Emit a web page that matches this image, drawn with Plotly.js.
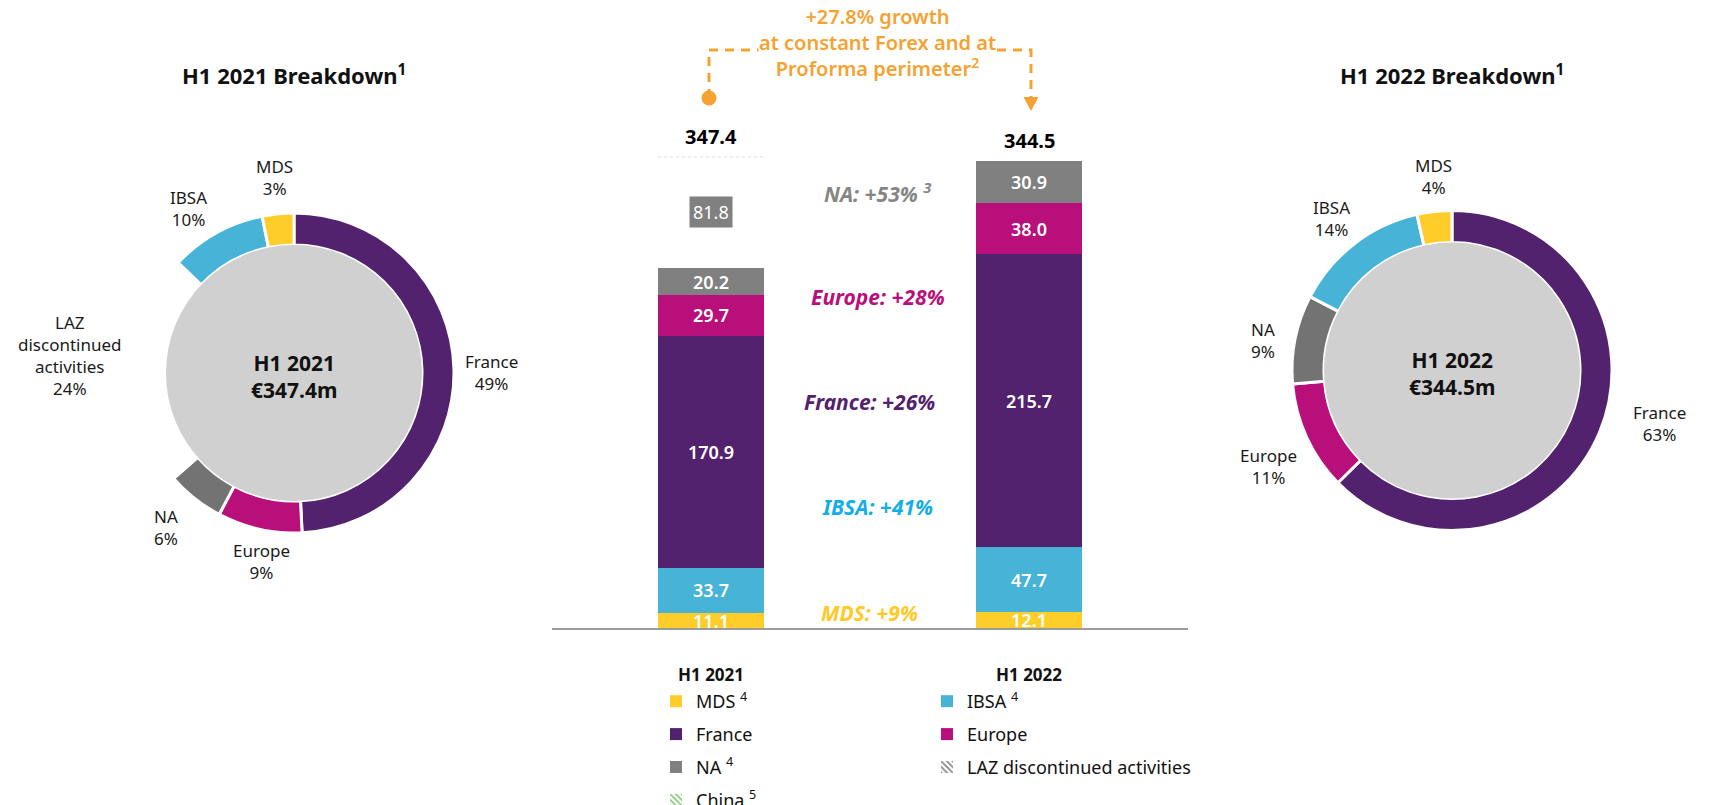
<!DOCTYPE html>
<html>
<head>
<meta charset="utf-8">
<script src="https://cdn.plot.ly/plotly-3.0.1.min.js"></script>
<style>
html,body{margin:0;padding:0;background:#ffffff;}
#chart{width:1709px;height:805px;}
</style>
</head>
<body>
<div id="chart"></div>
<script>
// ---------------- DATA ----------------
const periods = ['H1 2021', 'H1 2022'];
const mdsVals = [11.1, 12.1];
const ibsaVals = [33.7, 47.7];
const franceVals = [170.9, 215.7];
const europeVals = [29.7, 38.0];
const naVals = [20.2, 30.9];
const lazVals = [81.8, 0];
const chinaVals = [0, 0];
const totals = [347.4, 344.5];
const growthNames = ['NA', 'Europe', 'France', 'IBSA', 'MDS'];
const growthPct = ['+53%', '+28%', '+26%', '+41%', '+9%'];
const growthNotes = ['3', '', '', '', ''];
const headlineGrowth = '+27.8%';
const pieSegments = ['France', 'Europe', 'NA', 'LAZ', 'IBSA', 'MDS'];
const pieSegmentText = ['France', 'Europe', 'NA', 'LAZ<br>discontinued<br>activities', 'IBSA', 'MDS'];

// ---------------- STYLE / LAYOUT POSITIONS ----------------
const W = 1709, H = 805;
const FONT = 'Noto Sans';
const C = {
  MDS: '#FFCD29', IBSA: '#47B3D7', France: '#53226F', Europe: '#B80F7A',
  NA: '#808080', NApie: '#737373', LAZ: 'rgba(0,0,0,0)', center: '#D0D0D0',
  orange: '#F4A231', ibsaText: '#14AEE6', mdsText: '#FFC928', naText: '#858585'
};
const fx = p => p / W;
const fy = p => 1 - p / H;
const dom = (cx, cy, r) => ({x: [fx(cx - r), fx(cx + r)], y: [fy(cy + r), fy(cy - r)]});

// label centres (px) for the outside pie labels, per segment
const pieLabelPos = [
  {France: [491, 372.5], Europe: [261, 561], NA: [166, 527], LAZ: [70, 355.5], IBSA: [188, 208.5], MDS: [274, 177.5]},
  {France: [1659, 423.5], Europe: [1268, 466.5], NA: [1263, 340], IBSA: [1331, 218], MDS: [1433, 176]}
];
const pieCenters = [[294, 373], [1452, 370.5]];

const bargap = 2 / 3;
const half = (1 - bargap) / 2;

// ---------------- BAR TRACES ----------------
function bar(name, vals, color, legend, extra) {
  return Object.assign({
    type: 'bar', x: periods, y: vals.map(v => v === 0 ? null : v), name: name,
    marker: {color: color, line: {width: 0}},
    texttemplate: '%{y:.1f}', textposition: 'inside', insidetextanchor: 'middle',
    textangle: 0, constraintext: 'none', cliponaxis: false,
    textfont: {family: FONT, size: 18, color: '#ffffff', weight: 600},
    legend: legend, legendgroup: name, hoverinfo: 'skip'
  }, extra || {});
}

const traces = [
  bar('MDS <sup>4</sup>', mdsVals, C.MDS, 'legend'),
  bar('IBSA <sup>4</sup>', ibsaVals, C.IBSA, 'legend2'),
  bar('France', franceVals, C.France, 'legend'),
  bar('Europe', europeVals, C.Europe, 'legend2'),
  bar('NA <sup>4</sup>', naVals, C.NA, 'legend'),
  bar('LAZ discontinued activities (bar)', lazVals, C.LAZ, 'legend', {textposition: 'none', showlegend: false}),
  bar('China <sup>5</sup>', chinaVals, '#ffffff', 'legend',
      {textposition: 'none', marker: {color: '#ffffff', pattern: {shape: '\\', fgcolor: '#8DC97A', bgcolor: '#ffffff', size: 5, solidity: 0.45}}}),
  bar('LAZ discontinued activities', [null, null], '#ffffff', 'legend2',
      {textposition: 'none', marker: {color: '#ffffff', pattern: {shape: '\\', fgcolor: '#8a8a8a', bgcolor: '#ffffff', size: 5, solidity: 0.45}}})
];

// ---------------- PIE TRACES ----------------
const pieColors = [C.France, C.Europe, C.NApie, C.LAZ, C.IBSA, C.MDS];
const annotations = [];
function pieFor(i) {
  const [cx, cy] = pieCenters[i];
  const all = [franceVals[i], europeVals[i], naVals[i], lazVals[i], ibsaVals[i], mdsVals[i]];
  const keep = all.map((v, k) => v > 0 ? k : -1).filter(k => k >= 0);
  const sum = keep.reduce((s, k) => s + all[k], 0);
  keep.forEach(k => {
    const pos = pieLabelPos[i][pieSegments[k]];
    annotations.push({xref: 'paper', yref: 'paper', x: fx(pos[0]), y: fy(pos[1]),
      xanchor: 'center', yanchor: 'middle', align: 'center', showarrow: false,
      text: pieSegmentText[k] + '<br>' + Math.round(all[k] / sum * 100) + '%',
      font: {family: FONT, size: 17, color: '#1a1a1a'}});
  });
  return {
    type: 'pie',
    values: keep.map(k => all[k]),
    labels: keep.map(k => pieSegments[k]),
    textinfo: 'none',
    sort: false, direction: 'clockwise', rotation: 0, hole: 0.8,
    marker: {colors: keep.map(k => pieColors[k]), line: {color: '#ffffff', width: 3}},
    domain: dom(cx, cy, 160), showlegend: false, hoverinfo: 'skip'
  };
}
function centerDisc(i) {
  const [cx, cy] = pieCenters[i];
  return {
    type: 'pie', values: [totals[i]], labels: [periods[i]], textinfo: 'none',
    marker: {colors: [C.center], line: {width: 0}}, sort: false,
    domain: dom(cx, cy, 128), showlegend: false, hoverinfo: 'skip'
  };
}
traces.push(pieFor(0), centerDisc(0), pieFor(1), centerDisc(1));

// ---------------- ANNOTATIONS ----------------
periods.forEach((p, i) => {
  annotations.push({xref: 'x', yref: 'y', x: p, y: totals[i], xanchor: 'center', yanchor: 'bottom', yshift: 5,
    showarrow: false, text: '<b>' + totals[i].toFixed(1) + '</b>',
    font: {family: FONT, size: 20, color: '#000000'}});
});
const lazBase = mdsVals[0] + ibsaVals[0] + franceVals[0] + europeVals[0] + naVals[0];
annotations.push({xref: 'x', yref: 'y', x: periods[0], y: lazBase + lazVals[0] / 2,
  xanchor: 'center', yanchor: 'middle',
  showarrow: false, text: lazVals[0].toFixed(1), bgcolor: '#808080', borderpad: 3,
  font: {family: FONT, size: 18, color: '#ffffff'}});
const growthColors = {NA: C.naText, Europe: C.Europe, France: C.France, IBSA: C.ibsaText, MDS: C.mdsText};
const growthPos = [[877, 192], [878, 297], [869, 402], [877, 507], [870, 613]];
growthNames.forEach((n, k) => {
  annotations.push({xref: 'paper', yref: 'paper', x: fx(growthPos[k][0]), y: fy(growthPos[k][1]),
    xanchor: 'center', yanchor: 'middle', showarrow: false,
    text: '<b><i>' + n + ': ' + growthPct[k] + (growthNotes[k] ? ' <sup>' + growthNotes[k] + '</sup>' : '') + '</i></b>',
    font: {family: FONT, size: 21, color: growthColors[n]}});
});
annotations.push({xref: 'paper', yref: 'paper', x: fx(877), y: fy(43), xanchor: 'center', yanchor: 'middle',
  showarrow: false,
  text: headlineGrowth + ' growth<br>at constant Forex and at<br>Proforma perimeter<sup>2</sup>',
  bgcolor: '#ffffff', borderpad: 0,
  font: {family: FONT, size: 20, color: C.orange, weight: 600}});
periods.forEach((p, i) => {
  const [cx, cy] = pieCenters[i];
  annotations.push({xref: 'paper', yref: 'paper', x: fx(cx), y: fy(75), xanchor: 'center', yanchor: 'middle',
    showarrow: false,
    text: '<b>' + p + ' Breakdown<sup>1</sup></b>', font: {family: FONT, size: 22, color: '#111111'}});
  annotations.push({xref: 'paper', yref: 'paper', x: fx(cx), y: fy(cy + 3), xanchor: 'center', yanchor: 'middle',
    showarrow: false,
    text: '<b>' + p + '</b><br><b>€' + totals[i].toFixed(1) + 'm</b>',
    font: {family: FONT, size: 21, color: '#111111'}});
});

// ---------------- SHAPES ----------------
const P = (x, y) => fx(x) + ',' + fy(y);
const shapes = [
  {type: 'line', xref: 'x', yref: 'y', x0: -half, x1: half, y0: totals[0], y1: totals[0],
   line: {color: '#dddddd', width: 1, dash: 'dot'}},
  {type: 'path', xref: 'paper', yref: 'paper',
   path: 'M' + P(709, 98) + ' L' + P(709, 50) + ' L' + P(1031, 50) + ' L' + P(1031, 98),
   line: {color: C.orange, width: 3, dash: '9px,7px'}, layer: 'below'},
  {type: 'circle', xref: 'paper', yref: 'paper', x0: fx(701.5), x1: fx(716.5), y0: fy(105.5), y1: fy(90.5),
   fillcolor: C.orange, line: {width: 0}},
  {type: 'path', xref: 'paper', yref: 'paper',
   path: 'M' + P(1023.5, 97) + ' L' + P(1038.5, 97) + ' L' + P(1031, 111) + ' Z',
   fillcolor: C.orange, line: {width: 0}}
];

// ---------------- LAYOUT ----------------
const legendCommon = {orientation: 'v', xanchor: 'left', yanchor: 'top', traceorder: 'grouped',
  xref: 'container', yref: 'container',
  tracegroupgap: 6.5, bgcolor: 'rgba(0,0,0,0)', borderwidth: 0, itemwidth: 30,
  font: {family: FONT, size: 18, color: '#111111'}};

const layout = {
  width: W, height: H, autosize: false,
  margin: {l: 0, r: 0, t: 0, b: 0, pad: 0, autoexpand: false},
  paper_bgcolor: '#ffffff', plot_bgcolor: 'rgba(0,0,0,0)',
  font: {family: FONT, color: '#111111'},
  barmode: 'stack', bargap: bargap,
  showlegend: true,
  legend: Object.assign({x: fx(656), y: fy(683)}, legendCommon),
  legend2: Object.assign({x: fx(927), y: fy(683)}, legendCommon),
  xaxis: {domain: [fx(552), fx(1188)], type: 'category', range: [-0.5, 1.5],
    showline: true, linecolor: '#9b9b9b', linewidth: 2, showgrid: false, zeroline: false,
    ticks: 'outside', ticklen: 30, tickcolor: 'rgba(0,0,0,0)',
    tickfont: {family: FONT, size: 17, color: '#111111', weight: 'bold'}, fixedrange: true},
  yaxis: {domain: [fy(628.3), fy(58.4)], range: [0, 420], visible: false, fixedrange: true},
  annotations: annotations,
  shapes: shapes,
  hovermode: false
};

Plotly.newPlot('chart', traces, layout, {staticPlot: true, displayModeBar: false});
</script>
</body>
</html>
